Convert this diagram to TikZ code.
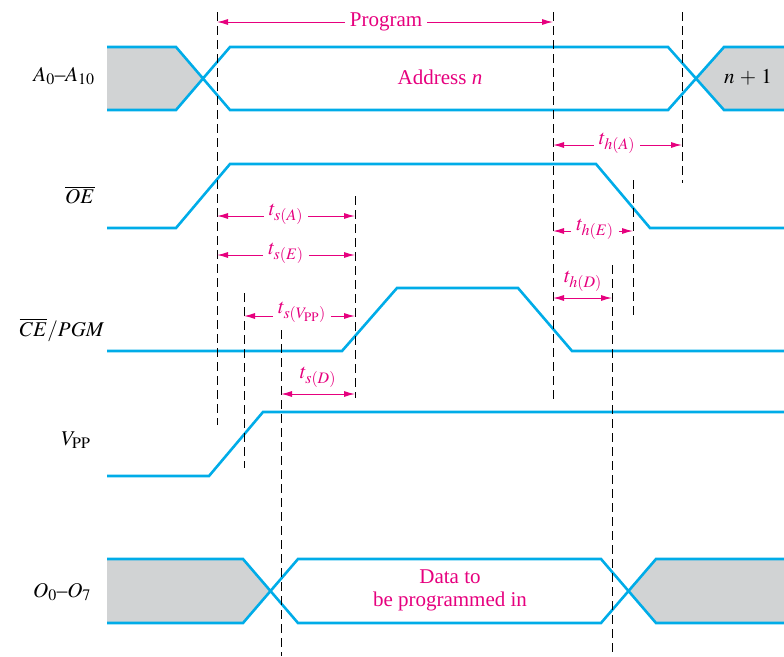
\documentclass[tikz,border=0pt]{standalone}
\usepackage{mathptmx}
\usepackage{fontspec}
\setmainfont{Liberation Serif}
\usetikzlibrary{arrows.meta}
\DeclareMathSizes{21}{21}{16}{13}

\definecolor{sigblue}{RGB}{0,172,232}
\definecolor{dimpink}{RGB}{230,0,126}
\definecolor{busgray}{RGB}{209,211,212}

\tikzset{
  signal/.style={sigblue, line width=2.6pt},
  guide/.style={black, line width=1pt, dash pattern=on 9pt off 5pt},
  dim/.style={dimpink, line width=1pt, -{Latex[length=11pt,width=6pt]}},
  dimboth/.style={dimpink, line width=1pt, {Latex[length=11pt,width=6pt]}-{Latex[length=11pt,width=6pt]}},
  dimlbl/.style={dimpink, inner sep=5pt, font=\fontsize{21}{23}\selectfont},
  siglbl/.style={black, inner sep=1pt, font=\fontsize{21}{23}\selectfont}
}

\begin{document}
\begin{tikzpicture}[x=1pt, y=-1pt]
    \useasboundingbox (0,0) rectangle (784,656);

    % Signal names
    \node[siglbl] (sa) at (64,76) {$A_0$--$A_{10}$};
    \node[siglbl] (soe) at (80,195) {$\overline{OE}$};
    \node[siglbl] (sce) at (62,330) {$\overline{CE}/PGM$};
    \node[siglbl] (svpp) at (76,440) {$V_{\mathrm{PP}}$};
    \node[siglbl] (so) at (62,592) {$O_0$--$O_7$};

    % Address bus
    \fill[busgray] (107,47) -- (176,47) -- (203,78.5) -- (176,110) -- (107,110) -- cycle;
    \fill[busgray] (696,78.5) -- (724,47) -- (784,47) -- (784,110) -- (724,110) -- cycle;
    \draw[signal] (107,47) -- (176,47) -- (230,110) -- (668,110) -- (724,47) -- (784,47);
    \draw[signal] (107,110) -- (176,110) -- (230,47) -- (668,47) -- (724,110) -- (784,110);
    \node[dimlbl] (addr) at (440,77) {Address \textit{n}};
    \node[siglbl] (next) at (748,77) {$n\,+\,1$};

    % Control signals
    \draw[signal] (107,228) -- (176,228) -- (230,164) -- (596,164) -- (650,228) -- (784,228);
    \draw[signal] (107,351) -- (342,351) -- (397,288) -- (518,288) -- (572,351) -- (784,351);
    \draw[signal] (107,476) -- (209,476) -- (263,412) -- (784,412);

    % Data bus
    \fill[busgray] (107,559) -- (243,559) -- (270,591) -- (243,623) -- (107,623) -- cycle;
    \fill[busgray] (628,591) -- (656,559) -- (784,559) -- (784,623) -- (656,623) -- cycle;
    \draw[signal] (107,559) -- (243,559) -- (298,623) -- (601,623) -- (656,559) -- (784,559);
    \draw[signal] (107,623) -- (243,623) -- (298,559) -- (601,559) -- (656,623) -- (784,623);
    \node[dimlbl, align=center] (data) at (450,590) {Data to\\be programmed in};

    % Dashed reference lines
    \foreach \x/\top/\bot/\name in {217/12/425/ga, 553/12/402/gb, 682/12/183/gc,
        355/196/398/gd, 244/293/468/ge, 281/330/656/gf, 633/180/318/gg, 612/265/656/gh} {
        \coordinate (\name-t) at (\x,\top);
        \coordinate (\name-b) at (\x,\bot);
        \draw[guide] (\name-t) -- (\name-b);
    }

    % Timing intervals
    \node[dimlbl] (prog) at (386,22) {Program};
    \draw[dim] (prog) -- (ga-t |- prog);
    \draw[dim] (prog) -- (gb-t |- prog);

    \node[dimlbl] (tha) at (617,143) {$t_{h(A)}$};
    \draw[dim] (tha.west |- 0,145) -- (gb-t |- 0,145);
    \draw[dim] (tha.east |- 0,145) -- (gc-t |- 0,145);

    \node[dimlbl] (tsa) at (286,214) {$t_{s(A)}$};
    \draw[dim] (tsa.west |- 0,216) -- (ga-t |- 0,216);
    \draw[dim] (tsa.east |- 0,216) -- (gd-t |- 0,216);

    \node[dimlbl] (the) at (595,229) {$t_{h(E)}$};
    \draw[dim] (the.west |- 0,231) -- (gb-t |- 0,231);
    \draw[dim] (the.east |- 0,231) -- (gg-t |- 0,231);

    \node[dimlbl] (tse) at (286,253) {$t_{s(E)}$};
    \draw[dim] (tse.west |- 0,255) -- (ga-t |- 0,255);
    \draw[dim] (tse.east |- 0,255) -- (gd-t |- 0,255);

    \node[dimlbl] (thd) at (583,281) {$t_{h(D)}$};
    \draw[dimboth] (gb-t |- 0,298) -- (gh-t |- 0,298);

    \node[dimlbl] (tsv) at (302,312) {$t_{s(V_{\mathrm{PP}})}$};
    \draw[dim] (tsv.west |- 0,316) -- (ge-t |- 0,316);
    \draw[dim] (tsv.east |- 0,316) -- (gd-t |- 0,316);

    \node[dimlbl] (tsd) at (318,377) {$t_{s(D)}$};
    \draw[dimboth] (gf-t |- 0,394) -- (gd-t |- 0,394);
\end{tikzpicture}
\end{document}
